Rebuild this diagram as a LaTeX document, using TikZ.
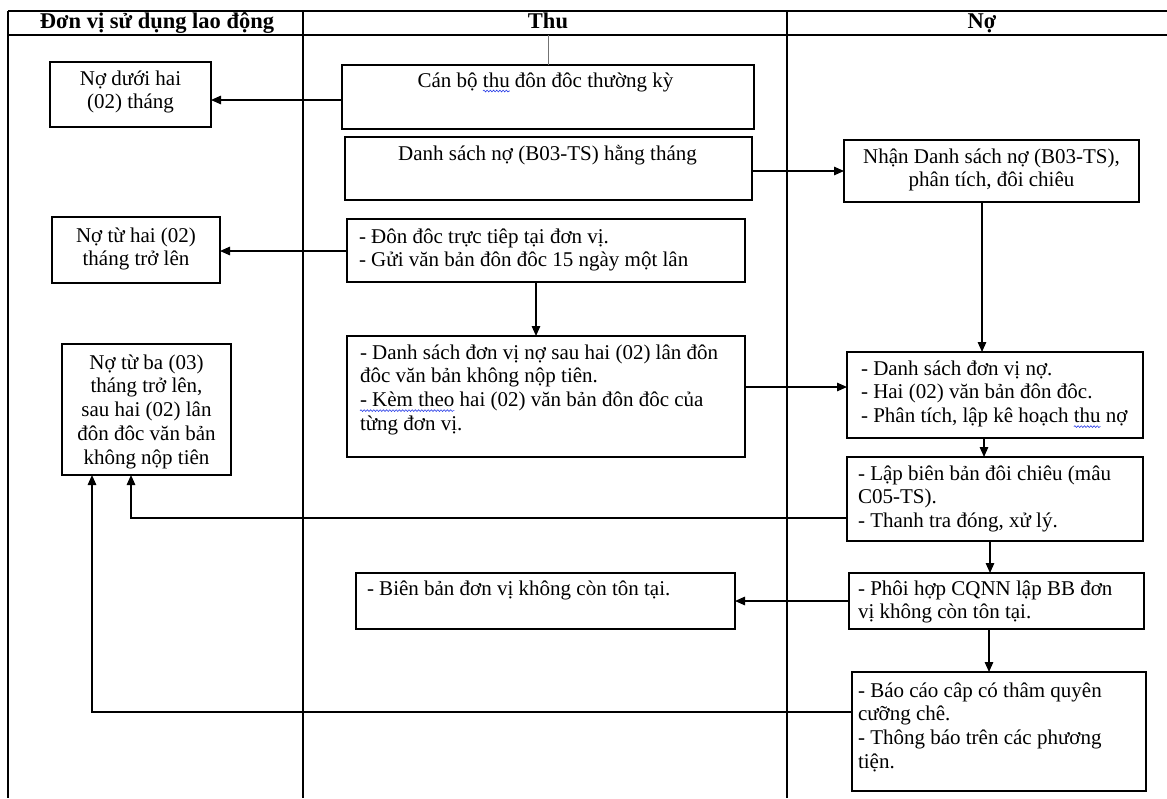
\documentclass[tikz,border=0pt]{standalone}
\usepackage{fontspec}
\setmainfont{Liberation Serif}
\usetikzlibrary{arrows.meta,decorations.pathmorphing}

\definecolor{spellblue}{RGB}{40,60,230}
\newcommand{\bodyfont}{\fontsize{21}{23.8}\selectfont}
\newcommand{\headfont}{\fontsize{22.5}{24}\selectfont\bfseries}
% stacked lines, first baseline on the node's base
\newcommand{\mlines}[2]{\begin{tabular}[t]{@{}#1@{}}#2\end{tabular}}
% spell-check squiggle under a word
\newlength{\spellwd}
\newcommand{\spell}[1]{\settowidth{\spellwd}{#1}\rlap{\tikz[overlay]\draw[spellblue, line width=0.6pt, decorate, decoration={snake, amplitude=0.9pt, segment length=3.2pt}] (0pt,-4pt) -- (\spellwd,-4pt);}#1}

\begin{document}
\begin{tikzpicture}[x=1pt,y=-1pt,
  box/.style={draw, line width=1.4pt, inner sep=0, outer sep=0, anchor=north west},
  txt/.style={inner sep=0, outer sep=0, font=\bodyfont},
  hd/.style={inner sep=0, outer sep=0, font=\headfont, anchor=base},
  flow/.style={line width=1.4pt, -{Triangle[length=10pt,width=8.5pt]}},
  rule/.style={line width=1.4pt},
  tick/.style={line width=0.7pt, black!55}]

\useasboundingbox (0,0) rectangle (1167,798);

% swimlane grid
\coordinate (tl) at (8,11);
\coordinate (hl) at (8,35);
\coordinate (c1) at (303,11);
\coordinate (c2) at (787,11);
\coordinate (tr) at (1167,11);
\coordinate (hr) at (1167,35);
\draw[rule] (tl) -- (tr);
\draw[rule] (hl) -- (hr);
\draw[rule] (tl) -- (8,798);
\draw[rule] (c1) -- (303,798);
\draw[rule] (c2) -- (787,798);

\node[hd] (h1) at (157,28.5) {Đơn vị sử dụng lao động};
\node[hd] (h2) at (548,28.5) {Thu};
\node[hd] (h3) at (982,28.5) {Nợ};

% boxes
\node[box, minimum width=161, minimum height=65]  (b1)  at (50,62)   {};
\node[box, minimum width=168, minimum height=66]  (b2)  at (52,217)  {};
\node[box, minimum width=169, minimum height=131] (b3)  at (62,344)  {};
\node[box, minimum width=412, minimum height=64]  (b4)  at (342,65)  {};
\node[box, minimum width=407, minimum height=63]  (b5)  at (345,137) {};
\node[box, minimum width=398, minimum height=63]  (b6)  at (347,219) {};
\node[box, minimum width=398, minimum height=121] (b7)  at (347,336) {};
\node[box, minimum width=379, minimum height=56]  (b8)  at (356,573) {};
\node[box, minimum width=295, minimum height=62]  (b9)  at (844,140) {};
\node[box, minimum width=296, minimum height=86]  (b10) at (847,352) {};
\node[box, minimum width=296, minimum height=84]  (b11) at (847,457) {};
\node[box, minimum width=295, minimum height=56]  (b12) at (849,573) {};
\node[box, minimum width=294, minimum height=119] (b13) at (852,672) {};

% box texts
\node[txt, anchor=base] (t1) at (130.5,85) {\mlines{c}{Nợ dưới hai\\(02) tháng}};
\node[txt, anchor=base] (t2) at (136,242) {\mlines{c}{Nợ từ hai (02)\\tháng trở lên}};
\node[txt, anchor=base] (t3) at (146.5,369) {\mlines{c}{Nợ từ ba (03)\\tháng trở lên,\\sau hai (02) lân\\đôn đôc văn bản\\không nộp tiên}};
\node[txt, anchor=base] (t4) at (545.5,87) {Cán bộ \spell{thu} đôn đôc thường kỳ};
\node[txt, anchor=base] (t5) at (547.5,160) {Danh sách nợ (B03-TS) hằng tháng};
\node[txt, anchor=base west] (t6) at (359,243) {\mlines{l}{- Đôn đôc trực tiêp tại đơn vị.\\- Gửi văn bản đôn đôc 15 ngày một lân}};
\node[txt, anchor=base west] (t7) at (360,359) {\mlines{l}{- Danh sách đơn vị nợ sau hai (02) lân đôn\\đôc văn bản không nộp tiên.\\\spell{- Kèm theo} hai (02) văn bản đôn đôc của\\từng đơn vị.}};
\node[txt, anchor=base west] (t8) at (367,595) {- Biên bản đơn vị không còn tôn tại.};
\node[txt, anchor=base] (t9) at (991.5,163) {\mlines{c}{Nhận Danh sách nợ (B03-TS),\\phân tích, đôi chiêu}};
\node[txt, anchor=base west] (t10) at (861,375) {\mlines{l}{- Danh sách đơn vị nợ.\\- Hai (02) văn bản đôn đôc.\\- Phân tích, lập kê hoạch \spell{thu} nợ}};
\node[txt, anchor=base west] (t11) at (858,480) {\mlines{l}{- Lập biên bản đôi chiêu (mâu\\C05-TS).\\- Thanh tra đóng, xử lý.}};
\node[txt, anchor=base west] (t12) at (858,595) {\mlines{l}{- Phôi hợp CQNN lập BB đơn\\vị không còn tôn tại.}};
\node[txt, anchor=base west] (t13) at (858,697) {\mlines{l}{- Báo cáo câp có thâm quyên\\cưỡng chê.\\- Thông báo trên các phương\\tiện.}};

% thin mark from the header down to the first box
\coordinate (hm) at (548,35);
\draw[tick] (b4.north) -- (b4.north |- hm);

% connectors
\draw[flow] ([yshift=-3]b4.west) -- ([yshift=-3]b4.west -| b1.east);
\draw[flow] ([yshift=-0.5]b6.west) -- ([yshift=-0.5]b6.west -| b2.east);
\draw[flow] ([yshift=-2.5]b5.east) -- ([yshift=-2.5]b5.east -| b9.west);
\draw[flow] ([xshift=-10]b6.south) -- ([xshift=-10]b6.south |- b7.north);
\draw[flow] ([yshift=9.5]b7.east) -- ([yshift=9.5]b7.east -| b10.west);
\draw[flow] ([xshift=-9.5]b9.south) -- ([xshift=-9.5]b9.south |- b10.north);
\draw[flow] ([xshift=-11]b10.south) -- ([xshift=-11]b10.south |- b11.north);
\draw[flow] ([xshift=-5]b11.south) -- ([xshift=-5]b11.south |- b12.north);
\draw[flow] ([xshift=-7.5]b12.south) -- ([xshift=-7.5]b12.south |- b13.north);
\draw[flow] (b12.west) -- (b12.west -| b8.east);
\draw[flow] ([yshift=-19]b11.west) -| ([xshift=-15.5]b3.south);
\draw[flow] ([yshift=19.5]b13.west) -| ([xshift=-54.5]b3.south);
\end{tikzpicture}
\end{document}
